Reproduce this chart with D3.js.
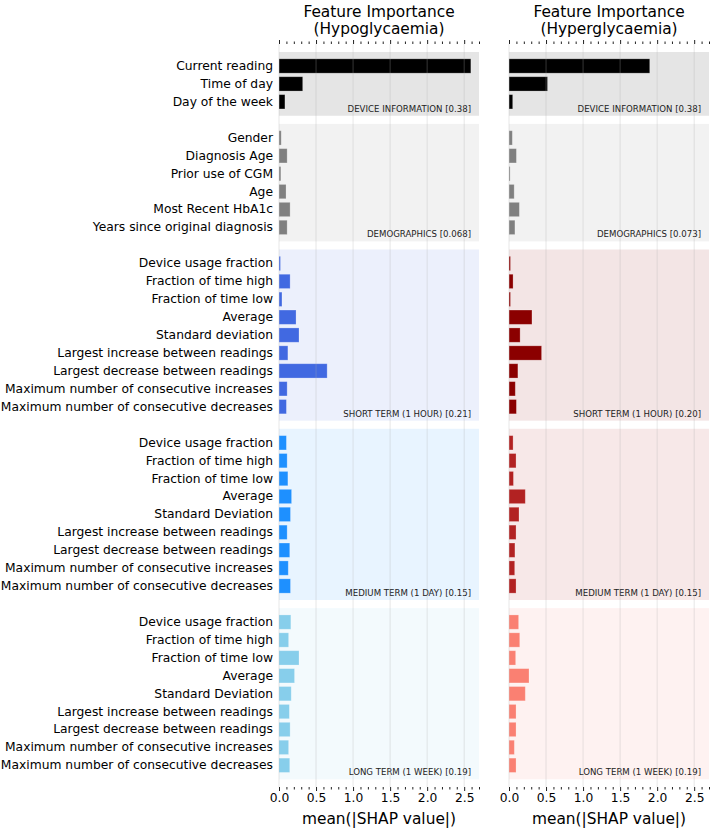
<!DOCTYPE html>
<html>
<head>
<meta charset="utf-8">
<script src="https://cdn.jsdelivr.net/npm/d3@7"></script>
<style>
  html, body { margin: 0; padding: 0; background: #fff; }
  svg { display: block; font-family: "DejaVu Sans", sans-serif; }
</style>
</head>
<body>
<svg id="chart" width="712" height="831"></svg>
<script>
// ---------- data ----------
const deviceFeatures = ["Current reading", "Time of day", "Day of the week"];
const demoFeatures = ["Gender", "Diagnosis Age", "Prior use of CGM", "Age", "Most Recent HbA1c", "Years since original diagnosis"];
const shortFeatures = ["Device usage fraction", "Fraction of time high", "Fraction of time low", "Average", "Standard deviation",
  "Largest increase between readings", "Largest decrease between readings",
  "Maximum number of consecutive increases", "Maximum number of consecutive decreases"];
const mediumFeatures = ["Device usage fraction", "Fraction of time high", "Fraction of time low", "Average", "Standard Deviation",
  "Largest increase between readings", "Largest decrease between readings",
  "Maximum number of consecutive increases", "Maximum number of consecutive decreases"];
const longFeatures = ["Device usage fraction", "Fraction of time high", "Fraction of time low", "Average", "Standard Deviation",
  "Largest increase between readings", "Largest decrease between readings",
  "Maximum number of consecutive increases", "Maximum number of consecutive decreases"];

// Hypoglycaemia mean(|SHAP|)
const hypoDevice = [2.59, 0.32, 0.08];
const hypoDemo = [0.03, 0.11, 0.025, 0.095, 0.15, 0.11];
const hypoShort = [0.02, 0.15, 0.04, 0.23, 0.27, 0.12, 0.65, 0.11, 0.10];
const hypoMedium = [0.10, 0.11, 0.12, 0.17, 0.155, 0.11, 0.145, 0.125, 0.155];
const hypoLong = [0.16, 0.13, 0.27, 0.21, 0.165, 0.14, 0.15, 0.13, 0.145];

// Hyperglycaemia mean(|SHAP|)
const hyperDevice = [1.90, 0.52, 0.05];
const hyperDemo = [0.045, 0.10, 0.015, 0.07, 0.14, 0.08];
const hyperShort = [0.02, 0.055, 0.02, 0.31, 0.15, 0.44, 0.12, 0.085, 0.10];
const hyperMedium = [0.055, 0.095, 0.06, 0.22, 0.135, 0.095, 0.08, 0.077, 0.095];
const hyperLong = [0.13, 0.145, 0.09, 0.27, 0.22, 0.095, 0.095, 0.072, 0.095];

const hypoGroupLabels = ["DEVICE INFORMATION [0.38]", "DEMOGRAPHICS [0.068]", "SHORT TERM (1 HOUR) [0.21]", "MEDIUM TERM (1 DAY) [0.15]", "LONG TERM (1 WEEK) [0.19]"];
const hyperGroupLabels = ["DEVICE INFORMATION [0.38]", "DEMOGRAPHICS [0.073]", "SHORT TERM (1 HOUR) [0.20]", "MEDIUM TERM (1 DAY) [0.15]", "LONG TERM (1 WEEK) [0.19]"];

const hypoColors = ["#000000", "#808080", "#4169e1", "#1e90ff", "#87ceeb"];
const hyperColors = ["#000000", "#808080", "#8b0000", "#b22222", "#fa8072"];

const titles = [["Feature Importance", "(Hypoglycaemia)"], ["Feature Importance", "(Hyperglycaemia)"]];
const xTicks = [0, 0.5, 1.0, 1.5, 2.0, 2.5];
const xLabel = "mean(|SHAP value|)";

// ---------- layout ----------
const featureGroups = [deviceFeatures, demoFeatures, shortFeatures, mediumFeatures, longFeatures];
const charts = [
  { values: [hypoDevice, hypoDemo, hypoShort, hypoMedium, hypoLong], labels: hypoGroupLabels, colors: hypoColors, x0: 279, x1: 479, showY: true, title: titles[0] },
  { values: [hyperDevice, hyperDemo, hyperShort, hyperMedium, hyperLong], labels: hyperGroupLabels, colors: hyperColors, x0: 509, x1: 709, showY: false, title: titles[1] }
];

const axTop = 44, axBottom = 787;
const panelTop0 = 52, step = 17.9, gap = 8.1;
const paddingInner = 0.2, paddingOuter = 0.382;

// panel vertical extents
const panelBoxes = [];
let yCursor = panelTop0;
featureGroups.forEach(f => {
  const h = step * (f.length - paddingInner + 2 * paddingOuter);
  panelBoxes.push([yCursor, yCursor + h]);
  yCursor += h + gap;
});

const svg = d3.select("#chart");

charts.forEach(ch => {
  const x = d3.scaleLinear().domain([0, 2.7]).range([ch.x0, ch.x1]);
  const g = svg.append("g");

  // panel backgrounds
  featureGroups.forEach((feats, i) => {
    const [t, b] = panelBoxes[i];
    g.append("rect")
      .attr("x", x(0)).attr("y", t)
      .attr("width", x(2.7) - x(0)).attr("height", b - t)
      .attr("fill", ch.colors[i]).attr("fill-opacity", 0.1);
  });

  // bars
  featureGroups.forEach((feats, i) => {
    const [t, b] = panelBoxes[i];
    const y = d3.scaleBand().domain(feats).range([t, b]).paddingInner(paddingInner).paddingOuter(paddingOuter);
    const data = feats.map((f, j) => ({ f, v: ch.values[i][j] }));
    g.selectAll(null).data(data).enter().append("rect")
      .attr("x", x(0))
      .attr("y", d => y(d.f))
      .attr("width", d => x(d.v) - x(0))
      .attr("height", y.bandwidth())
      .attr("fill", ch.colors[i])
      .attr("stroke", "#ffffff").attr("stroke-opacity", 0.3).attr("stroke-width", 0.8);

    if (ch.showY) {
      const ax = d3.axisLeft(y).tickSize(0).tickPadding(6);
      const ag = g.append("g").attr("transform", `translate(${x(0)},0)`).call(ax);
      ag.select(".domain").remove();
      ag.selectAll("text").attr("font-size", "12.3px").attr("fill", "#000").attr("font-family", "DejaVu Sans, sans-serif");
    }

    // group label
    g.append("text")
      .attr("x", x(2.7) - 8).attr("y", b - 4)
      .attr("text-anchor", "end")
      .attr("font-size", "8.6px").attr("fill", "#222")
      .text(ch.labels[i]);
  });

  // grid lines (on top, semi-transparent)
  g.selectAll(null).data(xTicks).enter().append("line")
    .attr("x1", d => x(d)).attr("x2", d => x(d))
    .attr("y1", axTop).attr("y2", axBottom)
    .attr("stroke", "#b0b0b0").attr("stroke-opacity", 0.3).attr("stroke-width", 1);

  // minor ticks
  const minor = d3.range(0, 27.01, 1).map(d => d / 10).filter(d => !xTicks.some(t => Math.abs(t - d) < 1e-9));
  const topMinor = g.append("g").attr("transform", `translate(0,${axTop})`)
    .call(d3.axisTop(x).tickValues(minor).tickSize(2.5).tickFormat(""));
  const botMinor = g.append("g").attr("transform", `translate(0,${axBottom})`)
    .call(d3.axisBottom(x).tickValues(minor).tickSize(2.5).tickFormat(""));
  // major ticks
  const topMajor = g.append("g").attr("transform", `translate(0,${axTop})`)
    .call(d3.axisTop(x).tickValues(xTicks).tickSize(4).tickFormat(""));
  const botMajor = g.append("g").attr("transform", `translate(0,${axBottom})`)
    .call(d3.axisBottom(x).tickValues(xTicks).tickSize(4).tickPadding(2.5).tickFormat(d3.format(".1f")));
  [topMinor, botMinor, topMajor, botMajor].forEach(a => {
    a.select(".domain").remove();
    a.selectAll("line").attr("stroke", "#222").attr("stroke-width", 1);
  });
  botMajor.selectAll("text").attr("font-size", "12.3px").attr("fill", "#000").attr("font-family", "DejaVu Sans, sans-serif");

  // axis label
  g.append("text")
    .attr("x", (x(0) + x(2.7)) / 2).attr("y", 824)
    .attr("text-anchor", "middle").attr("font-size", "15.4px").attr("fill", "#000")
    .text(xLabel);

  // title
  g.append("text")
    .attr("x", (x(0) + x(2.7)) / 2).attr("y", 17)
    .attr("text-anchor", "middle").attr("font-size", "15.4px").attr("fill", "#000")
    .text(ch.title[0]);
  g.append("text")
    .attr("x", (x(0) + x(2.7)) / 2).attr("y", 34)
    .attr("text-anchor", "middle").attr("font-size", "15.4px").attr("fill", "#000")
    .text(ch.title[1]);
});
</script>
</body>
</html>
